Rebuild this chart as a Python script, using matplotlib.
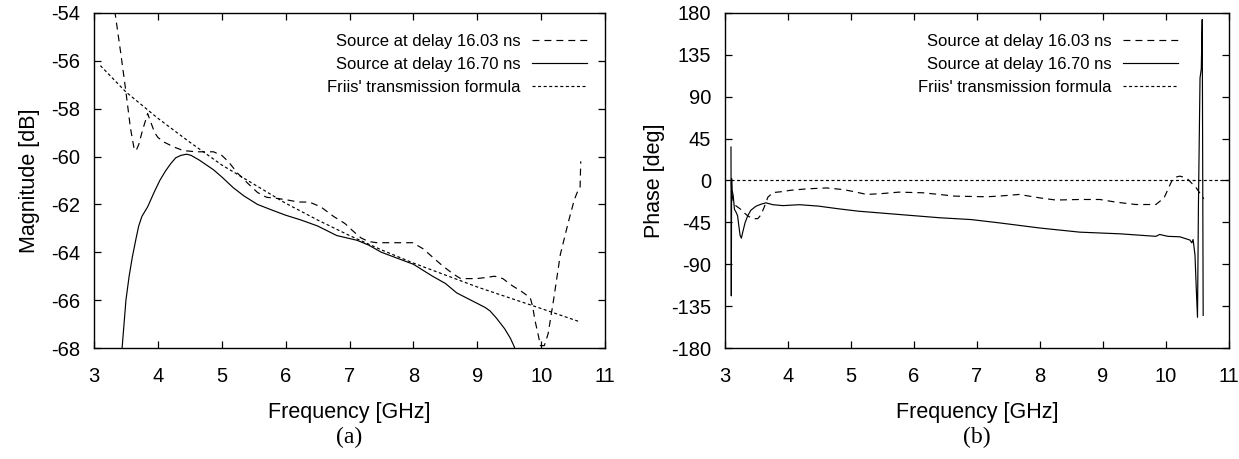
import matplotlib
matplotlib.use("Agg")
import matplotlib.pyplot as plt

plt.rcParams['font.family'] = ['Liberation Sans', 'DejaVu Sans']
plt.rcParams['axes.unicode_minus'] = False
plt.rcParams['lines.scale_dashes'] = False

# ---------------- data ----------------
labels = ["Source at delay 16.03 ns", "Source at delay 16.70 ns", "Friis' transmission formula"]

# (a) magnitude
mag_f_1603 = [3.30, 3.33, 3.42, 3.50, 3.57, 3.63, 3.66, 3.70, 3.76, 3.84, 3.88, 3.95, 4.00, 4.10,
              4.25, 4.40, 4.60, 4.87, 5.00, 5.10, 5.25, 5.40, 5.56, 5.70, 5.87, 6.00, 6.20, 6.37,
              6.55, 6.75, 6.93, 7.05, 7.18, 7.30, 7.43, 7.70, 7.99, 8.15, 8.30, 8.45, 8.62, 8.74,
              8.99, 9.15, 9.27, 9.40, 9.55, 9.70, 9.83, 9.87, 9.90, 9.95, 9.99, 10.05, 10.11,
              10.20, 10.30, 10.43, 10.52, 10.58, 10.61, 10.62]
mag_v_1603 = [-53.4, -54.0, -55.7, -57.3, -58.8, -59.7, -59.75, -59.5, -58.9, -58.2, -58.5, -59.0,
              -59.2, -59.4, -59.6, -59.75, -59.8, -59.8, -59.95, -60.2, -60.7, -61.1, -61.5, -61.7,
              -61.75, -61.8, -61.9, -61.9, -62.1, -62.5, -62.8, -63.1, -63.4, -63.55, -63.6, -63.6,
              -63.6, -63.85, -64.2, -64.55, -64.9, -65.1, -65.1, -65.05, -65.0, -65.1, -65.4,
              -65.65, -65.9, -66.3, -66.8, -67.4, -67.9, -67.9, -67.4, -65.9, -64.1, -62.7, -61.8,
              -61.4, -61.3, -60.2]

mag_f_1670 = [3.42, 3.44, 3.47, 3.50, 3.55, 3.60, 3.66, 3.70, 3.75, 3.84, 3.94, 4.03, 4.12, 4.20,
              4.28, 4.36, 4.45, 4.52, 4.65, 4.87, 5.00, 5.18, 5.35, 5.56, 5.80, 6.00, 6.24, 6.50,
              6.80, 7.12, 7.30, 7.50, 7.75, 8.00, 8.30, 8.50, 8.68, 8.90, 9.12, 9.20, 9.30, 9.43,
              9.52, 9.58, 9.62]
mag_v_1670 = [-68.5, -68.0, -67.0, -66.0, -65.0, -64.2, -63.4, -62.9, -62.5, -62.1, -61.5, -61.0,
              -60.6, -60.3, -60.05, -59.95, -59.9, -59.95, -60.15, -60.55, -60.85, -61.3, -61.65,
              -62.0, -62.25, -62.45, -62.65, -62.9, -63.3, -63.5, -63.7, -64.0, -64.25, -64.5,
              -65.0, -65.3, -65.7, -66.0, -66.3, -66.45, -66.75, -67.2, -67.6, -67.95, -68.4]

friis_f = [3.1, 3.5, 4.0, 4.5, 5.0, 5.5, 6.0, 6.5, 7.0, 7.5, 8.0, 8.5, 9.0, 9.5, 10.0, 10.6]
friis_v = [-56.2, -57.3, -58.4, -59.4, -60.35, -61.15, -61.95, -62.65, -63.3, -63.9, -64.45,
           -64.95, -65.45, -65.9, -66.35, -66.9]

# (b) phase
ph_f_1603 = [3.10, 3.11, 3.13, 3.15, 3.21, 3.27, 3.31, 3.36, 3.44, 3.52, 3.57, 3.62, 3.68, 3.76,
             3.90, 4.04, 4.30, 4.61, 4.87, 5.05, 5.25, 5.50, 5.76, 6.14, 6.40, 6.65, 7.16, 7.40,
             7.67, 7.99, 8.25, 8.63, 8.95, 9.20, 9.52, 9.84, 9.97, 10.09, 10.15, 10.22, 10.28,
             10.35, 10.48, 10.60]
ph_v_1603 = [-2, -15, -22, -26, -29, -32, -35, -38, -41, -41, -37, -29, -18, -13, -12, -10.5, -9,
             -8, -9.7, -12, -15, -14, -12.5, -13.2, -15, -16.8, -17.5, -16.5, -15, -18.6, -21,
             -20.4, -20.4, -23.2, -25.8, -25.8, -18.6, -0.7, 3.5, 4.7, 3.5, 1.1, -7.9, -19.7]

ph_f_1670 = [3.095, 3.100, 3.105, 3.11, 3.13, 3.15, 3.175, 3.20, 3.22, 3.24, 3.26, 3.28, 3.32,
             3.36, 3.41, 3.49, 3.57, 3.65, 3.76, 3.92, 4.18, 4.48, 4.80, 5.12, 5.76, 6.40, 6.91,
             7.35, 7.99, 8.63, 9.27, 9.84, 9.90, 10.03, 10.22, 10.38, 10.41, 10.43, 10.46, 10.48,
             10.50, 10.515, 10.54, 10.56, 10.575, 10.59]
ph_v_1670 = [36, -124, 2, -10, -16, -31, -34, -38, -49, -59, -62, -56, -45, -38, -32, -27.7,
             -25.5, -24, -26, -27, -26, -27.5, -30.4, -33, -36.5, -40, -42, -45.5, -51, -55.5,
             -57.3, -60, -58, -60, -60.5, -64, -67, -63.4, -80, -115, -147, -25, 110, 120, 173,
             -145]

friis_ph_f = [3.1, 11.0]
friis_ph_v = [0, 0]

# ---------------- styles ----------------
LW = 0.85
dash_a = (0, (5.0, 3.6))
dot_a = (0, (2.2, 1.8))

fig = plt.figure(figsize=(12.39, 4.59), dpi=100)
W, H = 1239, 459
axL = fig.add_axes([94 / W, 1 - 348 / H, (605 - 94) / W, (348 - 13) / H])
axR = fig.add_axes([725 / W, 1 - 348 / H, (1229 - 725) / W, (348 - 13) / H])

axL.plot(mag_f_1603, mag_v_1603, color='black', lw=LW, linestyle=dash_a, label=labels[0])
axL.plot(mag_f_1670, mag_v_1670, color='black', lw=LW, linestyle='-', label=labels[1])
axL.plot(friis_f, friis_v, color='black', lw=LW, linestyle=dot_a, label=labels[2])
axL.set_xlim(3, 11)
axL.set_ylim(-68, -54)
axL.set_yticks(range(-68, -53, 2))
axL.set_xticks(range(3, 12))
axL.set_ylabel("Magnitude [dB]", fontsize=15.5, labelpad=8)

axR.plot(ph_f_1603, ph_v_1603, color='black', lw=LW, linestyle=dash_a, label=labels[0])
axR.plot(ph_f_1670, ph_v_1670, color='black', lw=LW, linestyle='-', label=labels[1])
axR.plot(friis_ph_f, friis_ph_v, color='black', lw=LW, linestyle=dot_a, label=labels[2])
axR.set_xlim(3, 11)
axR.set_ylim(-180, 180)
axR.set_yticks(range(-180, 181, 45))
axR.set_xticks(range(3, 12))
axR.set_ylabel("Phase [deg]", fontsize=15.5, labelpad=4)

# legend anchor (upper-right corner, axes fraction) for each panel
leg_anchor = {axL: ((587 - 94) / 511, 1 - 21 / 335),
              axR: ((1178 - 725) / 504, 1 - 21 / 335)}

for ax, cap in ((axL, "(a)"), (axR, "(b)")):
    ax.set_xlabel("Frequency [GHz]", fontsize=15.5, labelpad=11)
    ax.tick_params(direction='in', top=True, right=True, length=5, width=0.9,
                   labelsize=14.5)
    ax.tick_params(axis='x', pad=14)
    ax.tick_params(axis='y', pad=10)
    for s in ax.spines.values():
        s.set_linewidth(1.0)
    leg = ax.legend(loc='upper right', frameon=False, markerfirst=False, fontsize=12,
                    handlelength=3.3, handletextpad=0.7, labelspacing=0.48,
                    bbox_to_anchor=leg_anchor[ax], borderaxespad=0.0,
                    borderpad=0.0)
    for t in leg.get_texts():
        t.set_ha('right')
    ax.text(0.5, -0.236, cap, transform=ax.transAxes, ha='center', va='top',
            fontsize=17, family='Liberation Serif')

fig.savefig("out.png", dpi=100)
